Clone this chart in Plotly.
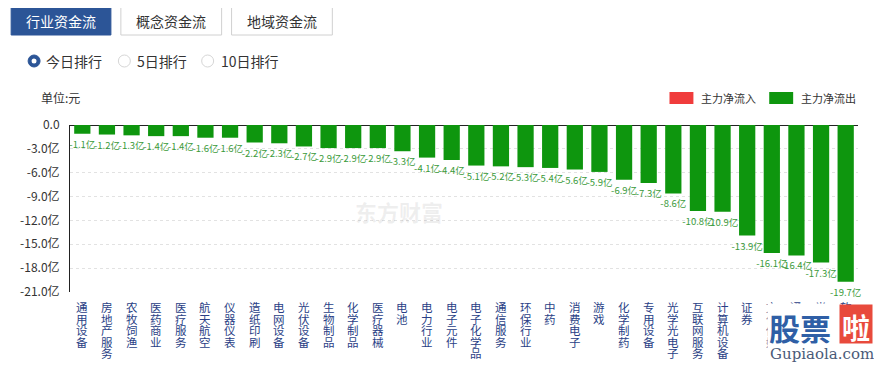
import plotly.graph_objects as go

categories = ["通用设备", "房地产服务", "农牧饲渔", "医药商业", "医疗服务", "航天航空", "仪器仪表",
              "造纸印刷", "电网设备", "光伏设备", "生物制品", "化学制品", "医疗器械", "电池",
              "电力行业", "电子元件", "电子化学品", "通信服务", "环保行业", "中药", "消费电子",
              "游戏", "化学制药", "专用设备", "光学光电子", "互联网服务", "计算机设备", "证券",
              "文化传媒", "通信设备", "半导体", "软件开发"]
net_outflow = [-1.1, -1.2, -1.3, -1.4, -1.4, -1.6, -1.6, -2.2, -2.3, -2.7, -2.9, -2.9, -2.9, -3.3,
               -4.1, -4.4, -5.1, -5.2, -5.3, -5.4, -5.6, -5.9, -6.9, -7.3, -8.6, -10.8, -10.9, -13.9,
               -16.1, -16.4, -17.3, -19.7]
y_ticks = [0, -3, -6, -9, -12, -15, -18, -21]
y_tick_labels = ["0.0", "-3.0亿", "-6.0亿", "-9.0亿", "-12.0亿", "-15.0亿", "-18.0亿", "-21.0亿"]
tabs = ["行业资金流", "概念资金流", "地域资金流"]
radios = ["今日排行", "5日排行", "10日排行"]
legend_names = ["主力净流入", "主力净流出"]

FONT = "Noto Sans CJK SC"
GREEN = "#0e960e"
RED = "#f03c3c"
BLUE = "#2c5597"
OFF = 8  # page body margin
W_, H_ = 882 - OFF, 366 - OFF
L, R, T, B = 68, 858, 125, 292  # plot area in page pixels
PW, PH = R - L, B - T


def px(x):
    return (x - L) / PW


def py(y):
    return (B - y) / PH


fig = go.Figure()
fig.add_trace(go.Bar(
    x=categories, y=net_outflow, marker_color=GREEN, marker_line_width=0,
    text=[f"{v:.1f}亿" for v in net_outflow], textposition="outside",
    constraintext="none", cliponaxis=False,
    textfont=dict(size=9.5, color="#3a9a3a", family=FONT),
    showlegend=False, hoverinfo="x+y",
))

shapes = []
annotations = []

# category labels (vertical stacked characters)
for cat in categories:
    for k, ch in enumerate(cat):
        annotations.append(dict(
            x=cat, xref="x", y=0, yref="paper", yanchor="top", xanchor="center",
            yshift=-(5 + k * 11.6), text=ch, showarrow=False,
            font=dict(size=11.5, color="#2a3f86", family=FONT)))

# tabs
tab_boxes = [(9, 109), (119, 220), (230, 331)]
for i, (name, (x0, x1)) in enumerate(zip(tabs, tab_boxes)):
    active = i == 0
    shapes.append(dict(type="rect", xref="paper", yref="paper",
                       x0=px(x0), x1=px(x1), y0=py(35), y1=py(7),
                       fillcolor=BLUE if active else "white",
                       line=dict(color=BLUE if active else "#d0d0d0", width=1)))
    annotations.append(dict(x=px((x0 + x1) / 2), y=py(21), xref="paper", yref="paper",
                            text=name, showarrow=False, xanchor="center", yanchor="middle",
                            font=dict(size=14, color="white" if active else "#333333", family=FONT)))

# radios
radio_pos = [(32, 42), (122.5, 133), (206, 217)]
for i, (name, (cx, tx)) in enumerate(zip(radios, radio_pos)):
    r = 6
    if i == 0:
        shapes.append(dict(type="circle", xref="paper", yref="paper",
                           x0=px(cx - r), x1=px(cx + r), y0=py(61 + r), y1=py(61 - r),
                           fillcolor=BLUE, line=dict(color=BLUE, width=1)))
        shapes.append(dict(type="circle", xref="paper", yref="paper",
                           x0=px(cx - 2.5), x1=px(cx + 2.5), y0=py(61 + 2.5), y1=py(61 - 2.5),
                           fillcolor="white", line=dict(color="white", width=0)))
    else:
        shapes.append(dict(type="circle", xref="paper", yref="paper",
                           x0=px(cx - r), x1=px(cx + r), y0=py(61 + r), y1=py(61 - r),
                           fillcolor="white", line=dict(color="#d6d6d6", width=1)))
    annotations.append(dict(x=px(tx), y=py(61), xref="paper", yref="paper", text=name,
                            showarrow=False, xanchor="left", yanchor="middle",
                            font=dict(size=14, color="#333333", family=FONT)))

# unit label
annotations.append(dict(x=px(37), y=py(97), xref="paper", yref="paper", text="单位:元",
                        showarrow=False, xanchor="left", yanchor="middle",
                        font=dict(size=12, color="#333333", family=FONT)))

# legend
leg = [(669, 699, RED), (769, 799, GREEN)]
for name, (rx, tx, col) in zip(legend_names, leg):
    shapes.append(dict(type="rect", xref="paper", yref="paper",
                       x0=px(rx), x1=px(rx + 24), y0=py(104), y1=py(92),
                       fillcolor=col, line=dict(color=col, width=0)))
    annotations.append(dict(x=px(tx), y=py(98), xref="paper", yref="paper", text=name,
                            showarrow=False, xanchor="left", yanchor="middle",
                            font=dict(size=11, color="#333333", family=FONT)))

# faint watermark
annotations.append(dict(x=px(398), y=py(211), xref="paper", yref="paper", text="<b>东方财富</b>",
                        showarrow=False, xanchor="center", yanchor="middle",
                        font=dict(size=22, color="rgba(120,120,120,0.12)", family=FONT)))

# corner logo watermark
annotations.append(dict(x=px(800), y=py(327), xref="paper", yref="paper", text="<b>股票</b>",
                        showarrow=False, xanchor="center", yanchor="middle", bgcolor="white",
                        font=dict(size=31, color="#2f5fa6", family=FONT)))
annotations.append(dict(x=px(856), y=py(327), xref="paper", yref="paper", text="<b>啦</b>",
                        showarrow=False, xanchor="center", yanchor="middle", bgcolor="#e84a3c",
                        borderpad=2,
                        font=dict(size=28, color="white", family=FONT)))
annotations.append(dict(x=px(822), y=py(354), xref="paper", yref="paper", text="Gupiaola.com",
                        showarrow=False, xanchor="center", yanchor="middle", bgcolor="white",
                        font=dict(size=15, color="#4a5a78", family="DejaVu Serif")))

fig.update_layout(
    width=W_, height=H_,
    margin=dict(l=L - OFF, r=(882 - R), t=T - OFF, b=(366 - B), pad=0),
    paper_bgcolor="white", plot_bgcolor="white",
    bargap=0.34,
    font=dict(family=FONT, size=12, color="#333333"),
    shapes=shapes, annotations=annotations,
    xaxis=dict(type="category", range=[-0.5, len(categories) - 0.5], showticklabels=False,
               showgrid=False, zeroline=False, showline=False, fixedrange=True),
    yaxis=dict(range=[-21, 0], tickvals=y_ticks, ticktext=y_tick_labels,
               showgrid=True, gridcolor="#e2e2e2", griddash="dot", gridwidth=1,
               zeroline=True, zerolinecolor="#222222", zerolinewidth=1,
               showline=True, linecolor="#222222", linewidth=1,
               ticks="", ticklabelstandoff=7,
               tickfont=dict(size=12, color="#333333", family=FONT), fixedrange=True),
    showlegend=False,
)

fig.write_html("out.html")
